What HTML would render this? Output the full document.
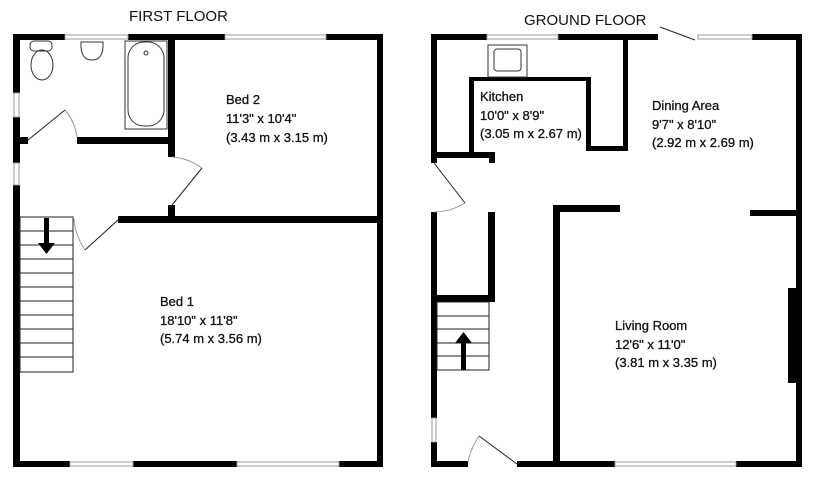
<!DOCTYPE html>
<html><head><meta charset="utf-8"><style>
html,body{margin:0;padding:0;background:#fff;width:818px;height:484px;overflow:hidden}
svg{display:block}
text{font-family:"Liberation Sans",sans-serif;font-size:13px;fill:#111;stroke:#111;stroke-width:0.3}
.t{font-size:15px;stroke-width:0}
</style></head><body>
<svg width="818" height="484" viewBox="0 0 818 484">
<g fill="#000">
<rect x="13" y="34" width="52" height="6"/>
<rect x="128" y="34" width="97" height="6"/>
<rect x="326" y="34" width="57" height="6"/>
<rect x="13" y="34" width="7" height="59"/>
<rect x="13" y="117" width="7" height="46"/>
<rect x="13" y="185" width="7" height="282"/>
<rect x="377" y="34" width="6" height="433"/>
<rect x="13" y="461" width="57" height="6"/>
<rect x="133" y="461" width="104" height="6"/>
<rect x="339" y="461" width="44" height="6"/>
<rect x="168" y="40" width="7" height="117"/>
<rect x="77" y="137" width="98" height="7"/>
<rect x="20" y="137" width="8" height="7"/>
<rect x="168" y="205" width="7" height="18"/>
<rect x="118" y="216" width="265" height="7"/>
<rect x="431" y="34" width="56" height="6"/>
<rect x="558" y="34" width="100" height="6"/>
<rect x="752" y="34" width="50" height="6"/>
<rect x="796" y="34" width="6" height="433"/>
<rect x="431" y="34" width="6" height="129"/>
<rect x="431" y="212" width="6" height="206"/>
<rect x="431" y="442" width="6" height="25"/>
<rect x="431" y="461" width="37" height="6"/>
<rect x="517" y="461" width="98" height="6"/>
<rect x="736" y="461" width="66" height="6"/>
<rect x="623" y="40" width="5" height="111"/>
<rect x="588" y="146" width="40" height="5"/>
<rect x="586" y="77" width="5" height="74"/>
<rect x="469" y="77" width="122" height="4"/>
<rect x="469" y="77" width="5" height="78"/>
<rect x="431" y="152" width="64" height="6"/>
<rect x="489" y="152" width="6" height="11"/>
<rect x="488" y="212" width="7" height="90"/>
<rect x="431" y="295" width="64" height="7"/>
<rect x="553" y="205" width="7" height="262"/>
<rect x="553" y="205" width="67" height="7"/>
<rect x="750" y="210" width="52" height="6"/>
<rect x="788" y="288" width="8" height="95"/>
</g>
<g fill="#fff" stroke="#999" stroke-width="1">
<rect x="65" y="35" width="63" height="4"/>
<rect x="225" y="35" width="101" height="4"/>
<rect x="14" y="93" width="5" height="24"/>
<rect x="14" y="163" width="5" height="22"/>
<rect x="70" y="462" width="63" height="4"/>
<rect x="237" y="462" width="102" height="4"/>
<rect x="487" y="35" width="71" height="4"/>
<rect x="698" y="35" width="54" height="4"/>
<rect x="432" y="418" width="4" height="24"/>
<rect x="615" y="462" width="121" height="4"/>
</g>
<g fill="none" stroke="#222" stroke-width="1">
<line x1="28" y1="140" x2="65" y2="110"/><path d="M65 110 Q75 122 77 137" stroke="#999"/>
<line x1="172" y1="205" x2="202" y2="168"/><path d="M202 168 Q188 158 172 157" stroke="#999"/>
<line x1="118" y1="220" x2="85" y2="250"/><path d="M85 250 Q75 235 74 219" stroke="#999"/>
<line x1="434" y1="163" x2="465" y2="203"/><path d="M465 203 Q450 212 434 212" stroke="#999"/>
<line x1="517" y1="464" x2="479" y2="436"/><path d="M479 436 Q470 450 468 462" stroke="#999"/>
<line x1="660" y1="27" x2="695" y2="40"/>
</g>
<g fill="none" stroke="#222" stroke-width="1">
<rect x="20" y="217" width="53" height="155"/>
<path d="M20 231H73M20 245H73M20 259H73M20 273H73M20 287H73M20 301H73M20 315H73M20 329H73M20 343H73M20 357H73"/>
<rect x="437" y="302" width="52" height="68"/>
<path d="M437 316H489M437 329H489M437 343H489M437 356H489"/>
</g>
<rect x="44" y="218" width="5" height="26" fill="#000"/><polygon points="38,243 55,243 46.5,254" fill="#000"/>
<rect x="461" y="342" width="5" height="28" fill="#000"/><polygon points="455,343 472,343 463.5,332" fill="#000"/>
<g fill="none" stroke="#333" stroke-width="1">
<rect x="30" y="41" width="22" height="10" rx="4"/>
<ellipse cx="42" cy="65" rx="11" ry="15"/>
<path d="M81 42 H103 Q104 60 92 60 Q80 60 81 42Z"/>
<rect x="125" y="41" width="42" height="88"/>
<rect x="128" y="42" width="36" height="84" rx="16"/>
<circle cx="146" cy="53" r="2"/>
<rect x="488" y="45" width="39" height="32"/>
<rect x="494" y="49" width="27" height="22" rx="3"/>
</g>
<text class="t" x="129" y="21">FIRST FLOOR</text>
<text class="t" x="524" y="25">GROUND FLOOR</text>
<text x="226" y="104">Bed 2</text><text x="226" y="123">11'3" x 10'4"</text><text x="226" y="142">(3.43 m x 3.15 m)</text>
<text x="160" y="306">Bed 1</text><text x="160" y="325">18'10" x 11'8"</text><text x="160" y="343">(5.74 m x 3.56 m)</text>
<text x="480" y="101">Kitchen</text><text x="480" y="120">10'0" x 8'9"</text><text x="480" y="138">(3.05 m x 2.67 m)</text>
<text x="652" y="110">Dining Area</text><text x="652" y="129">9'7" x 8'10"</text><text x="652" y="147">(2.92 m x 2.69 m)</text>
<text x="615" y="330">Living Room</text><text x="615" y="349">12'6" x 11'0"</text><text x="615" y="367">(3.81 m x 3.35 m)</text>
</svg>
</body></html>
